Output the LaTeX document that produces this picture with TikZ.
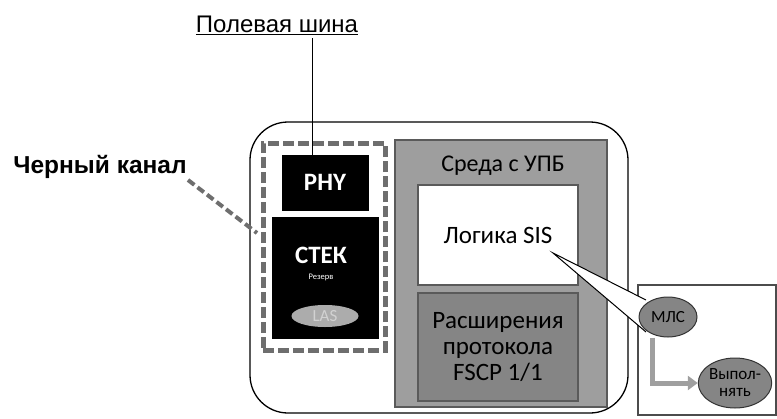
\documentclass[tikz,border=0pt]{standalone}
\usepackage{fontspec}
\setmainfont{Carlito}
\newfontfamily\labelfont{Liberation Sans}
\usetikzlibrary{arrows.meta,shapes.geometric}
\definecolor{envgray}{HTML}{9E9E9E}
\definecolor{extgray}{HTML}{858585}
\definecolor{edgegray}{HTML}{5A5A5A}
\definecolor{dashgray}{HTML}{6E6E6E}
\begin{document}
\begin{tikzpicture}[x=1pt, y=-1pt, every node/.style={inner sep=0pt},
  blackbox/.style={draw=black,fill=black,text=white,font=\bfseries\fontsize{25}{26}\selectfont},
  panel/.style={draw=edgegray,line width=1.5pt,align=center,font=\fontsize{25}{26}\selectfont},
  blob/.style={ellipse,draw=black!80,line width=1pt,fill=extgray,align=center,font=\fontsize{17}{17}\selectfont}]
\useasboundingbox (0,0) rectangle (777,418);
% device outline and its parts
\node[draw,line width=1.3pt,rounded corners=38pt,minimum width=378,minimum height=291] (dev) at (439,267.5) {};
\node[draw=dashgray,line width=5pt,dash pattern=on 11pt off 4pt,minimum width=122,minimum height=207] (chanbox) at (324,246.5) {};
\node[blackbox,minimum width=86,minimum height=55] (phy) at (325,182.5) {PHY};
\node[blackbox,minimum width=106,minimum height=121] (stack) at (325,277.5) {};
\node[text=white,font=\bfseries\fontsize{25}{26}\selectfont] (stacktxt) at (321,255) {СТЕК};
\node[text=white,font=\fontsize{8.5}{9}\selectfont] (reserve) at (321,277) {Резерв};
\node[ellipse,fill=gray!65,text=gray!35,minimum width=67,minimum height=22,font=\fontsize{17}{17}\selectfont] (las) at (325,316) {LAS};
% safety environment
\node[panel,fill=envgray,minimum width=212,minimum height=267] (env) at (501,273.5) {};
\node[font=\fontsize{24}{25}\selectfont] (envtxt) at (503,166) {Среда с УПБ};
\node[panel,fill=white,minimum width=160,minimum height=100] (logic) at (498,235) {Логика SIS};
\node[panel,fill=extgray,minimum width=160,minimum height=108] (fscp) at (498,347) {Расширения\\протокола\\FSCP 1/1};
% zoomed detail
\node[draw=black!70,line width=1.3pt,minimum width=138,minimum height=130] (detail) at (707,350) {};
\coordinate (tip) at (553,253);
\coordinate (wtop) at (646,300);
\coordinate (wbot) at (646,332);
\fill[white] (tip) -- (wtop) -- (wbot) -- cycle;
\draw[line width=1pt] (wtop) -- (tip) -- (wbot);
\node[blob,minimum width=58,minimum height=40] (mls) at (668,317) {МЛС};
\node[blob,minimum width=70,minimum height=50] (exec) at (735,383) {Выпол-\\нять};
\draw[gray!75,line width=5pt,-{Triangle[length=10pt,width=14pt]}] (mls.south -| 652,0) |- (exec.west);
% labels
\node[font=\labelfont\fontsize{24}{24}\selectfont] (bus) at (277,25) {\underline{Полевая шина}};
\coordinate (busend) at (312,38);
\draw[line width=1pt] (busend) -- (busend |- phy.north);
\node[font=\labelfont\bfseries\fontsize{24.5}{25}\selectfont] (chan) at (100,167) {Черный канал};
\coordinate (chanstart) at (188,180);
\coordinate (chanend) at (257,233);
\draw[dashgray,line width=4pt,dash pattern=on 8pt off 4pt] (chanstart) -- (chanend);
\end{tikzpicture}
\end{document}
